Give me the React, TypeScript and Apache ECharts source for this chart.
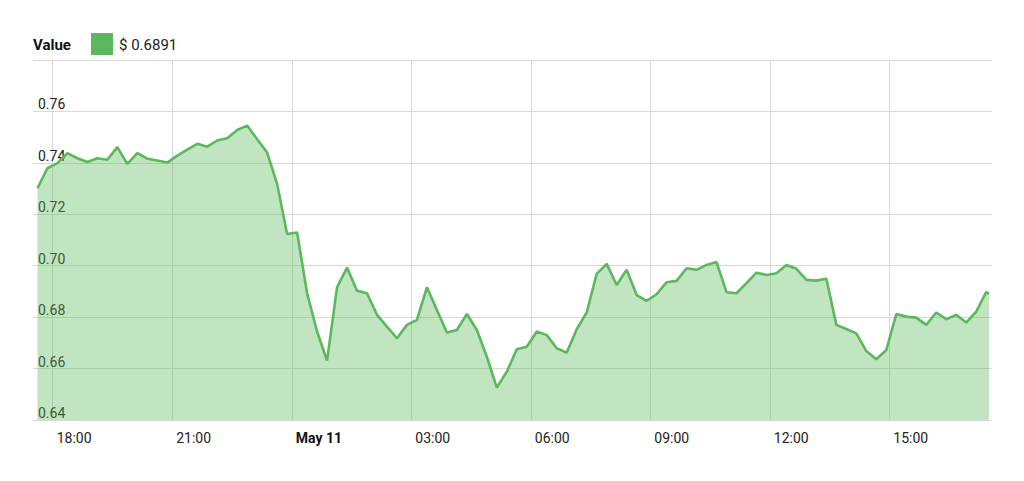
import React, { useEffect, useRef } from "react";
import * as echarts from "echarts";

// Minutes relative to 18:00 on May 10
const START_MIN = -23;
const STEP_MIN = 15.04;

const PRICES = [
  0.7302, 0.7379, 0.7399, 0.7438, 0.7418, 0.7403, 0.7418, 0.7412, 0.7461, 0.7396,
  0.7438, 0.7416, 0.7409, 0.7401, 0.7428, 0.7451, 0.7474, 0.7463, 0.7487, 0.7496,
  0.7528, 0.7545, 0.7492, 0.7440, 0.7318, 0.7123, 0.7129, 0.6894, 0.6744, 0.6631,
  0.6916, 0.6993, 0.6903, 0.6893, 0.6809, 0.6763, 0.6718, 0.6770, 0.6789, 0.6916,
  0.6828, 0.6740, 0.6750, 0.6812, 0.6750, 0.6646, 0.6526, 0.6588, 0.6675, 0.6685,
  0.6744, 0.6730, 0.6679, 0.6662, 0.6753, 0.6818, 0.6968, 0.7007, 0.6925, 0.6984,
  0.6886, 0.6863, 0.6889, 0.6936, 0.6941, 0.6990, 0.6984, 0.7003, 0.7014, 0.6897,
  0.6893, 0.6932, 0.6973, 0.6964, 0.6971, 0.7003, 0.6988, 0.6945, 0.6942, 0.6949,
  0.6770, 0.6754, 0.6737, 0.6668, 0.6636, 0.6672, 0.6812, 0.6802, 0.6798, 0.6770,
  0.6818, 0.6792, 0.6809, 0.6779, 0.6821, 0.6897,
];
const LAST_MIN = 1410;
const LAST_PRICE = 0.6891;

const X_MIN = -29.7;
const X_MAX = 1414.6;
const TICK_MINUTES = [0, 180, 360, 540, 720, 900, 1080, 1260];
const TICK_LABELS = ["18:00", "21:00", "May 11", "03:00", "06:00", "09:00", "12:00", "15:00"];
const BOLD_LABELS = ["May 11"];

const Y_MIN = 0.64;
const Y_MAX = 0.78;
const Y_STEP = 0.02;

const LEGEND_NAME = "Value";
const LEGEND_VALUE = "$ 0.6891";

const GREEN = "#5cb85c";
const FONT = "Roboto, 'Helvetica Neue', Arial, sans-serif";

export default function App() {
  const ref = useRef<HTMLDivElement>(null);
  useEffect(() => {
    if (!ref.current) return;
    const chart = echarts.init(ref.current, null, { renderer: "svg" });
    const data: number[][] = PRICES.map((v, i) => [START_MIN + i * STEP_MIN, v]);
    data.push([LAST_MIN, LAST_PRICE]);
    chart.setOption({
      animation: false,
      backgroundColor: "#ffffff",
      textStyle: { fontFamily: FONT },
      grid: { left: 33, right: 32, top: 60, bottom: 61, containLabel: false, outerBoundsMode: "none" },
      graphic: [
        {
          type: "text",
          left: 33,
          top: 37,
          style: { text: LEGEND_NAME, font: `bold 15px ${FONT}`, fill: "#111" },
        },
        {
          type: "rect",
          shape: { x: 91, y: 33, width: 22, height: 22 },
          style: { fill: GREEN },
        },
        {
          type: "text",
          left: 119,
          top: 37,
          style: { text: LEGEND_VALUE, font: `15px ${FONT}`, fill: "#222" },
        },
      ],
      xAxis: {
        type: "value",
        min: X_MIN,
        max: X_MAX,
        axisLine: { show: false },
        axisTick: { show: false, customValues: TICK_MINUTES },
        axisLabel: {
          customValues: TICK_MINUTES,
          align: "left",
          padding: [0, 0, 0, 4],
          margin: 11,
          fontSize: 14,
          color: "#222",
          fontFamily: FONT,
          formatter: (v: number) => {
            const idx = TICK_MINUTES.indexOf(Math.round(v));
            const label = idx >= 0 ? TICK_LABELS[idx] : "";
            return BOLD_LABELS.includes(label) ? `{b|${label}}` : label;
          },
          rich: {
            b: { fontWeight: "bold", fontSize: 14, color: "#111", fontFamily: FONT },
          },
        },
        splitLine: { show: true, lineStyle: { color: "#d8d8d8", width: 1 } },
      },
      yAxis: {
        type: "value",
        min: Y_MIN,
        max: Y_MAX,
        interval: Y_STEP,
        axisLine: { show: false },
        axisTick: { show: false },
        axisLabel: {
          inside: true,
          align: "left",
          verticalAlign: "bottom",
          margin: 5,
          showMaxLabel: false,
          fontSize: 14,
          color: "#222",
          fontFamily: FONT,
          formatter: (v: number) => v.toFixed(2),
        },
        splitLine: { show: true, lineStyle: { color: "#d8d8d8", width: 1 } },
      },
      series: [
        {
          type: "line",
          data,
          showSymbol: false,
          symbol: "none",
          lineStyle: { color: GREEN, width: 2.6 },
          itemStyle: { color: GREEN },
          areaStyle: { color: GREEN, opacity: 0.38, origin: "start" },
        },
      ],
    });
    return () => chart.dispose();
  }, []);
  return (
    <div
      ref={ref}
      style={{ position: "fixed", left: 0, top: 0, width: 1024, height: 481, background: "#fff" }}
    />
  );
}
